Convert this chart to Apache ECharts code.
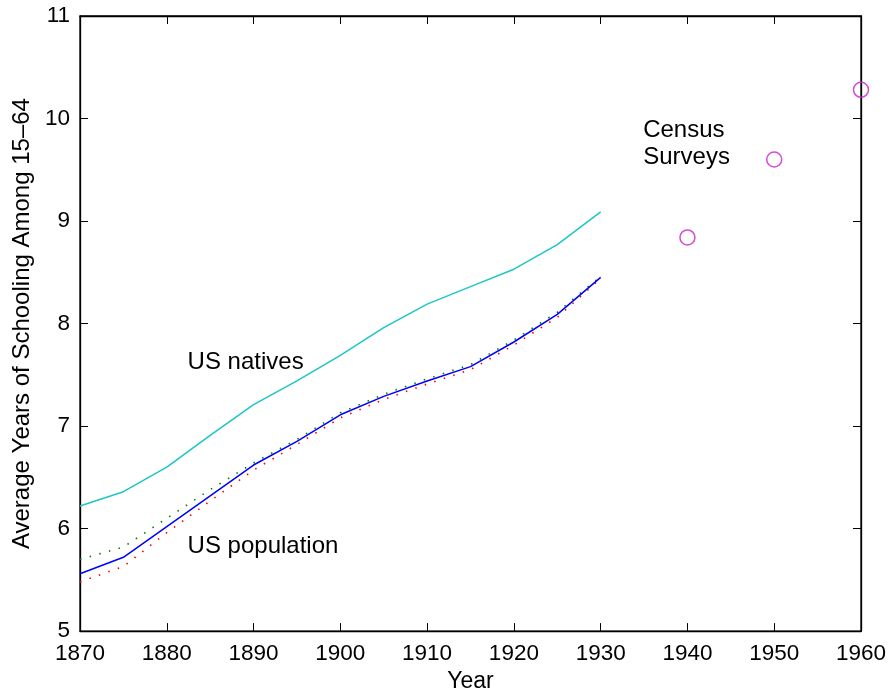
<!DOCTYPE html>
<html><head><meta charset="utf-8">
<script src="https://cdn.jsdelivr.net/npm/echarts@6/dist/echarts.min.js"></script>
<style>html,body{margin:0;padding:0;background:#fff}#c{width:893px;height:698px}</style>
</head><body><div id="c"></div>
<script>
const years = [1870,1875,1880,1885,1890,1895,1900,1905,1910,1915,1920,1925,1930];
const natives = [6.22,6.36,6.60,6.91,7.21,7.44,7.69,7.96,8.19,8.36,8.53,8.77,9.09];
const population = [5.56,5.72,6.02,6.32,6.62,6.85,7.11,7.29,7.44,7.58,7.82,8.09,8.45];
const popUpper = [5.70,5.82,6.10,6.38,6.64,6.87,7.13,7.31,7.46,7.60,7.84,8.11,8.46];
const popLower = [5.48,5.63,5.96,6.27,6.57,6.82,7.08,7.26,7.41,7.55,7.79,8.06,8.44];
const censusYears = [1940,1950,1960];
const censusValues = [8.84,9.60,10.28];
const labels = [
  {text:'US natives', x:1882.4, y:7.62},
  {text:'US population', x:1882.4, y:5.83},
  {text:'Census\nSurveys', x:1934.9, y:9.75}
];
const xTicks = [1870,1960,10];
const yTicks = [5,11,1];

const pair = (xs, ys) => xs.map((x,i)=>[x, ys[i]]);
const F = 'Liberation Sans, Arial, Helvetica, sans-serif';
const chart = echarts.init(document.getElementById('c'));
const axisCommon = {
  axisLine:{show:true, lineStyle:{color:'#000', width:1.3}},
  axisTick:{show:true, inside:true, length:8, lineStyle:{color:'#000', width:1}},
  splitLine:{show:false}
};
const option = {
  animation:false,
  grid:{left:80, right:32, top:16, bottom:65, show:true, borderColor:'#000', borderWidth:1.3},
  xAxis:[
    Object.assign({type:'value', min:xTicks[0], max:xTicks[1], interval:xTicks[2], position:'bottom',
      name:'Year', nameLocation:'middle', nameGap:38, nameTextStyle:{fontFamily:F, fontSize:23, color:'#000'},
      axisLabel:{fontFamily:F, fontSize:22.5, color:'#000', margin:11, formatter:v=>String(v)}}, axisCommon),
    Object.assign({type:'value', min:xTicks[0], max:xTicks[1], interval:xTicks[2], position:'top',
      axisLabel:{show:false}}, axisCommon)
  ],
  yAxis:[
    Object.assign({type:'value', min:yTicks[0], max:yTicks[1], interval:yTicks[2], position:'left',
      name:'Average Years of Schooling Among 15–64', nameLocation:'middle', nameGap:46,
      nameTextStyle:{fontFamily:F, fontSize:24, color:'#000'},
      axisLabel:{fontFamily:F, fontSize:22.5, color:'#000', margin:10}}, axisCommon),
    Object.assign({type:'value', min:yTicks[0], max:yTicks[1], interval:yTicks[2], position:'right',
      axisLabel:{show:false}}, axisCommon)
  ],
  series:[
    {type:'line', data:pair(years, popUpper), showSymbol:false, lineStyle:{color:'#008000', width:1.6, type:[1.5,8.5]}},
    {type:'line', data:pair(years, popLower), showSymbol:false, lineStyle:{color:'#ff0000', width:1.6, type:[1.5,8.5]}},
    {type:'line', data:pair(years, natives), showSymbol:false, lineStyle:{color:'#1cc6c6', width:1.5}},
    {type:'line', data:pair(years, population), showSymbol:false, lineStyle:{color:'#0000ff', width:1.5}},
    {type:'scatter', data:pair(censusYears, censusValues), symbol:'circle', symbolSize:15,
      itemStyle:{color:'rgba(0,0,0,0)', borderColor:'#cc1ecc', borderWidth:1.5}}
  ]
};
chart.setOption(option);
const g = labels.map(l => {
  const p = chart.convertToPixel({xAxisIndex:0, yAxisIndex:0}, [l.x, l.y]);
  return {type:'text', x:p[0], y:p[1], style:{text:l.text, fontFamily:F, fontSize:24, fill:'#000', lineHeight:27, textVerticalAlign:'middle'}};
});
chart.setOption({graphic:g});
</script></body></html>
